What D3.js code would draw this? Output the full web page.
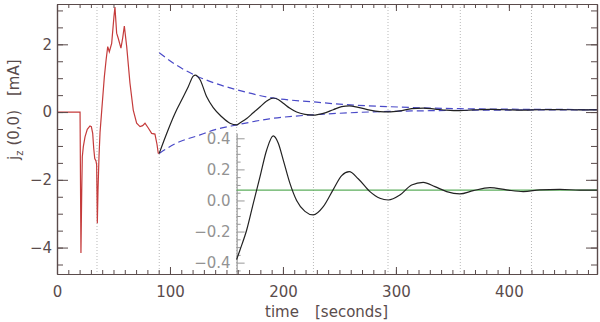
<!DOCTYPE html>
<html>
<head>
<meta charset="utf-8">
<script src="https://cdn.jsdelivr.net/npm/d3@7"></script>
<style>
body{margin:0;background:#fff;}
svg text{font-family:"DejaVu Sans",sans-serif;}
</style>
</head>
<body>
<script>
// early part (red)
var redTime  = [0, 20.4, 21.2, 21.9, 22.4, 23.3, 24.8, 26.8, 29.2, 30.4, 31.6, 32.5, 33.4, 34.5, 35.1, 35.7, 36.3, 37.2, 38.1, 39.6, 41.0, 41.9, 43.5, 44.9, 46.3, 48.4, 50.4, 51.3, 52.8, 54.2, 56.6, 58.2, 59.6, 61.7, 64.6, 67.5, 70.5, 73.5, 75.8, 77.9, 80.8, 83.8, 86.7, 88.5, 89.6, 90.5];
var redValue = [0, 0, -4.16, -2.3, -1.32, -1.02, -0.73, -0.51, -0.41, -0.43, -0.63, -1.07, -1.37, -1.44, -1.56, -3.28, -2.3, -1.3, -0.6, 0.05, 0.65, 1.04, 1.55, 1.93, 1.78, 2.03, 2.81, 3.10, 2.33, 2.18, 1.89, 2.20, 2.54, 1.93, 0.85, 0.06, -0.33, -0.43, -0.40, -0.33, -0.47, -0.63, -0.65, -0.95, -1.21, -1.22];

// ringing part (black)
var blackTime  = [90.5, 92.9, 97.1, 104.4, 111.8, 116.2, 120.6, 122.5, 126.5, 132.5, 138.3, 145.8, 153.1, 159.0, 161.9, 167.9, 173.7, 179.6, 185.6, 191.4, 195.8, 200.3, 206.2, 212.1, 219.5, 226.8, 235.7, 244.5, 252.0, 258.7, 266.6, 277.0, 285.8, 293.2, 303.5, 313.9, 324.2, 334.5, 344.9, 356.6, 368.4, 383.2, 397.9, 412.7, 427.4, 445.1, 462.8, 478];
var blackValue = [-1.22, -1.0, -0.63, -0.04, 0.45, 0.75, 1.06, 1.09, 0.96, 0.45, 0.13, -0.14, -0.33, -0.38, -0.32, -0.19, -0.02, 0.15, 0.325, 0.415, 0.37, 0.26, 0.11, 0.0, -0.07, -0.093, -0.04, 0.07, 0.16, 0.185, 0.14, 0.057, 0.014, 0.003, 0.035, 0.10, 0.117, 0.089, 0.057, 0.042, 0.063, 0.082, 0.068, 0.057, 0.068, 0.072, 0.066, 0.066];

// dashed envelopes
var upperTime  = [90.5, 105, 122, 140, 159, 188, 227, 260, 293, 330, 357, 400, 440, 478];
var upperValue = [1.75, 1.40, 1.09, 0.85, 0.66, 0.43, 0.30, 0.21, 0.16, 0.12, 0.10, 0.085, 0.078, 0.074];
var lowerTime  = [90.5, 105, 126, 140, 159, 188, 227, 260, 293, 330, 357, 400, 440, 478];
var lowerValue = [-1.22, -0.93, -0.68, -0.52, -0.38, -0.20, -0.08, -0.02, 0.02, 0.04, 0.05, 0.06, 0.065, 0.068];

var markerTimes = [35.4, 90.5, 159, 227, 293, 357, 420];
var meanLevel = 0.066;
var insetStart = 159;

var xTicks = [0, 100, 200, 300, 400];
var yTicks = [-4, -2, 0, 2];
var insetTicks = [-0.4, -0.2, 0.0, 0.2, 0.4];

var width = 600, height = 322;
var margins = {top:4, bottom:48, left:57, right:3};
var axisColor = "#5a4b4b";
var textColor = "#5a4c4c";

var svg = d3.select("body").append("svg")
  .attr("width", width).attr("height", height);

var x = d3.scaleLinear().domain([0, 478]).range([margins.left, width - margins.right]);
var y = d3.scaleLinear().domain([-4.78, 3.19]).range([height - margins.bottom, margins.top]);
var yIn = d3.scaleLinear().domain([-0.473, 0.434]).range([height - margins.bottom, 133]);

var pts = function(t, v){ return d3.zip(t, v); };

// dotted marker lines
svg.selectAll(".marker").data(markerTimes).enter().append("line")
  .attr("class", "marker")
  .attr("x1", function(d){return x(d);}).attr("x2", function(d){return x(d);})
  .attr("y1", y.range()[1]).attr("y2", y.range()[0])
  .attr("stroke", "#b9b9b9").attr("stroke-width", 1)
  .attr("stroke-dasharray", "1,2");

// inset axis
var inset = svg.append("g").attr("transform", "translate(" + x(insetStart) + ",0)")
  .attr("color", "#999");
inset.call(d3.axisLeft(yIn).tickValues(insetTicks).tickSize(-8).tickSizeOuter(0)
  .tickPadding(6).tickFormat(d3.format(".1f")));
inset.append("g").call(d3.axisLeft(yIn)
  .tickValues(d3.range(-9, 9).map(function(i){return i*0.05;}).filter(function(d){return Math.abs(d*5 - Math.round(d*5)) > 1e-6;}))
  .tickSize(-4).tickSizeOuter(0).tickFormat(""))
  .select(".domain").remove();
inset.selectAll("text").attr("font-size", 15).attr("font-family", "DejaVu Sans").attr("fill", "#939393");

// mean level
svg.append("line")
  .attr("x1", x(insetStart)).attr("x2", x(478))
  .attr("y1", yIn(meanLevel)).attr("y2", yIn(meanLevel))
  .attr("stroke", "#5cae5c").attr("stroke-width", 1.2);

var lineMain = d3.line().x(function(d){return x(d[0]);}).y(function(d){return y(d[1]);});
var lineInset = d3.line().x(function(d){return x(d[0]);}).y(function(d){return yIn(d[1]);})
  .curve(d3.curveMonotoneX);

// inset curve
svg.append("path")
  .datum(pts(blackTime, blackValue).filter(function(d){return d[0] >= insetStart;}))
  .attr("d", lineInset)
  .attr("fill", "none").attr("stroke", "#222").attr("stroke-width", 1.2);

// envelopes
[pts(upperTime, upperValue), pts(lowerTime, lowerValue)].forEach(function(env){
  svg.append("path").datum(env)
    .attr("d", lineMain.curve(d3.curveMonotoneX))
    .attr("fill", "none").attr("stroke", "#4a4ac8").attr("stroke-width", 1.2)
    .attr("stroke-dasharray", "7,4");
});

svg.append("path").datum(pts(redTime, redValue))
  .attr("d", lineMain.curve(d3.curveLinear))
  .attr("fill", "none").attr("stroke", "#c53b3b").attr("stroke-width", 1.2);

svg.append("path").datum(pts(blackTime, blackValue))
  .attr("d", lineMain.curve(d3.curveMonotoneX))
  .attr("fill", "none").attr("stroke", "#222").attr("stroke-width", 1.2);

// frame with ticks on all sides
var minorX = d3.range(0, 478, 10);
var minorY = d3.range(-9, 7).map(function(i){return i*0.5;});
var bottom = height - margins.bottom, right = width - margins.right;

var gB = svg.append("g").attr("transform", "translate(0," + bottom + ")").attr("color", axisColor);
gB.call(d3.axisBottom(x).tickValues(xTicks).tickSize(-7).tickSizeOuter(0).tickPadding(12).tickFormat(d3.format("d")));
gB.append("g").call(d3.axisBottom(x).tickValues(minorX).tickSize(-4).tickSizeOuter(0).tickFormat(""));

var gT = svg.append("g").attr("transform", "translate(0," + margins.top + ")").attr("color", axisColor);
gT.call(d3.axisTop(x).tickValues(xTicks).tickSize(-7).tickSizeOuter(0).tickFormat(""));
gT.append("g").call(d3.axisTop(x).tickValues(minorX).tickSize(-4).tickSizeOuter(0).tickFormat(""));

var gL = svg.append("g").attr("transform", "translate(" + margins.left + ",0)").attr("color", axisColor);
gL.call(d3.axisLeft(y).tickValues(yTicks).tickSize(-11).tickSizeOuter(0).tickPadding(5).tickFormat(d3.format("d")));
gL.append("g").call(d3.axisLeft(y).tickValues(minorY).tickSize(-6).tickSizeOuter(0).tickFormat(""));

var gR = svg.append("g").attr("transform", "translate(" + right + ",0)").attr("color", axisColor);
gR.call(d3.axisRight(y).tickValues(yTicks).tickSize(-11).tickSizeOuter(0).tickFormat(""));
gR.append("g").call(d3.axisRight(y).tickValues(minorY).tickSize(-6).tickSizeOuter(0).tickFormat(""));

svg.selectAll(".domain").attr("stroke-width", 1.2);
[gB, gL].forEach(function(g){
  g.selectAll("text").attr("font-size", 15).attr("font-family", "DejaVu Sans").attr("fill", textColor);
});

// axis titles
var xt = svg.append("text").attr("x", 265).attr("y", 317)
  .attr("font-size", 15).attr("fill", textColor);
xt.append("tspan").text("time");
xt.append("tspan").attr("x", 315).text("[seconds]");

var yt = svg.append("text").attr("transform", "translate(18.5,160) rotate(-90)")
  .attr("font-size", 15).attr("fill", textColor);
yt.append("tspan").text("j");
yt.append("tspan").attr("font-size", 10).attr("dy", 4).text("z");
yt.append("tspan").attr("dy", -4).attr("dx", 5).text("(0,0)");
yt.append("tspan").attr("dx", 14).text("[mA]");
</script>
</body>
</html>
